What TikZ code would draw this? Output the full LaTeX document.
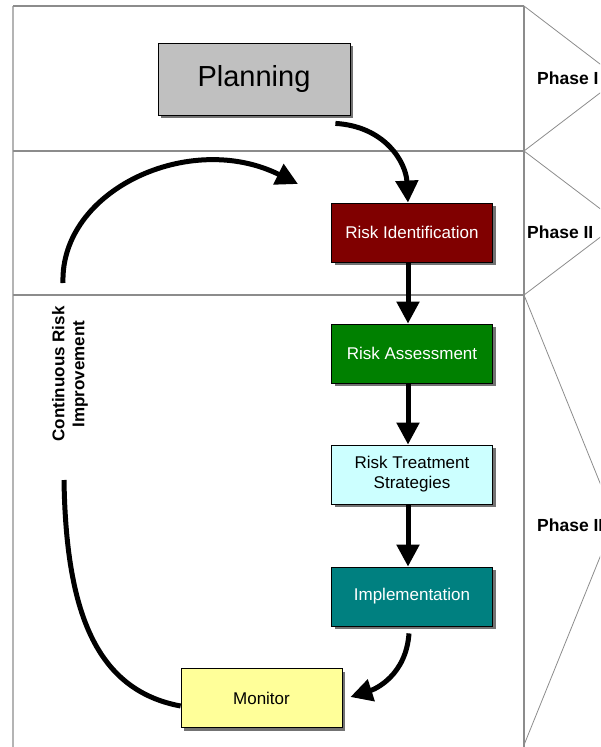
\documentclass[tikz,border=0pt]{standalone}
\usepackage{fontspec}
\setmainfont{Liberation Sans}
\usetikzlibrary{arrows.meta,shadows}

\definecolor{planfill}{HTML}{C0C0C0}
\definecolor{idfill}{HTML}{800000}
\definecolor{assessfill}{HTML}{008000}
\definecolor{treatfill}{HTML}{CCFFFF}
\definecolor{implfill}{HTML}{008080}
\definecolor{monfill}{HTML}{FFFF99}
\definecolor{rulegray}{HTML}{8C8C8C}
\definecolor{edgegray}{HTML}{B4B4B4}

\tikzset{
  stagebox/.style={draw=black, line width=0.8pt, minimum width=161pt,
    minimum height=59pt, inner sep=0pt, align=center,
    font=\fontsize{17}{20}\selectfont,
    drop shadow={shadow xshift=3pt, shadow yshift=-3pt, fill=black!55, opacity=1}},
  flowarrow/.style={line width=5pt, -{Triangle[width=22pt,length=22pt]}},
  loopline/.style={line width=5pt},
  phaselabel/.style={font=\bfseries\fontsize{17.5}{20}\selectfont, anchor=west, inner sep=0pt},
  bandline/.style={draw=rulegray, line width=1.2pt},
  wedge/.style={draw=rulegray, line width=0.8pt}
}

\begin{document}
\begin{tikzpicture}[x=1pt,y=-1pt]
\useasboundingbox (0,0) rectangle (600,747);
\clip (0,0) rectangle (600,747);

% phase bands
\draw[draw=edgegray, line width=2pt] (13,6) -- (13,747);
\draw[bandline] (13,6) -- (524,6);
\draw[bandline] (13,151) -- (524,151);
\draw[bandline] (13,295) -- (524,295);
\draw[bandline] (524,6) -- (524,747);

% phase wedges
\draw[wedge] (524,6) -- (619,78.5) -- (524,151);
\draw[wedge] (524,151) -- (619,223) -- (524,295);
\draw[wedge] (524,295) -- (615,520) -- (524,745);

\node[phaselabel] (ph1) at (537,78) {Phase I};
\node[phaselabel] (ph2) at (527,232) {Phase II};
\node[phaselabel] (ph3) at (537,525) {Phase III};

% process steps
\node[stagebox, fill=planfill, minimum width=192pt, minimum height=72pt,
      font=\fontsize{29}{32}\selectfont] (pl) at (254,79) {Planning};
\node[stagebox, fill=idfill, text=white] (ri) at (412,232.5) {Risk Identification};
\node[stagebox, fill=assessfill, text=white] (ra) at (412,353.5) {Risk Assessment};
\node[stagebox, fill=treatfill] (rt) at (412,474.5) {Risk Treatment\\Strategies};
\node[stagebox, fill=implfill, text=white] (im) at (412,596.5) {Implementation};
\node[stagebox, fill=monfill] (mo) at (261.5,698) {Monitor};

% connectors
\draw[flowarrow] ([xshift=-15pt,yshift=-8pt]pl.south east)
  .. controls +(50,3) and +(-2,-40) .. ([xshift=-4pt]ri.north);
\draw[flowarrow] ([xshift=-4pt]ri.south) -- ([xshift=-4pt]ra.north);
\draw[flowarrow] ([xshift=-4pt]ra.south) -- ([xshift=-4pt]rt.north);
\draw[flowarrow] ([xshift=-4pt]rt.south) -- ([xshift=-4pt]im.north);
\draw[flowarrow] ([xshift=-3pt,yshift=-7pt]im.south)
  .. controls +(-3,42) and +(25,-8) .. ([xshift=8pt,yshift=1pt]mo.east);

% continuous improvement loop
\coordinate (loopA) at (63,283);
\coordinate (loopB) at (298,184);
\coordinate (loopC) at (64,480);
\draw[flowarrow] (loopA) .. controls (60,190) and (190,130) .. (loopB);
\draw[loopline] (loopC) .. controls (66,610) and (95,690) .. ([yshift=-8pt]mo.west);

\node[rotate=90, align=center, font=\bfseries\fontsize{17}{20}\selectfont]
  (ci) at (70,374) {Continuous Risk\\Improvement};
\end{tikzpicture}
\end{document}
